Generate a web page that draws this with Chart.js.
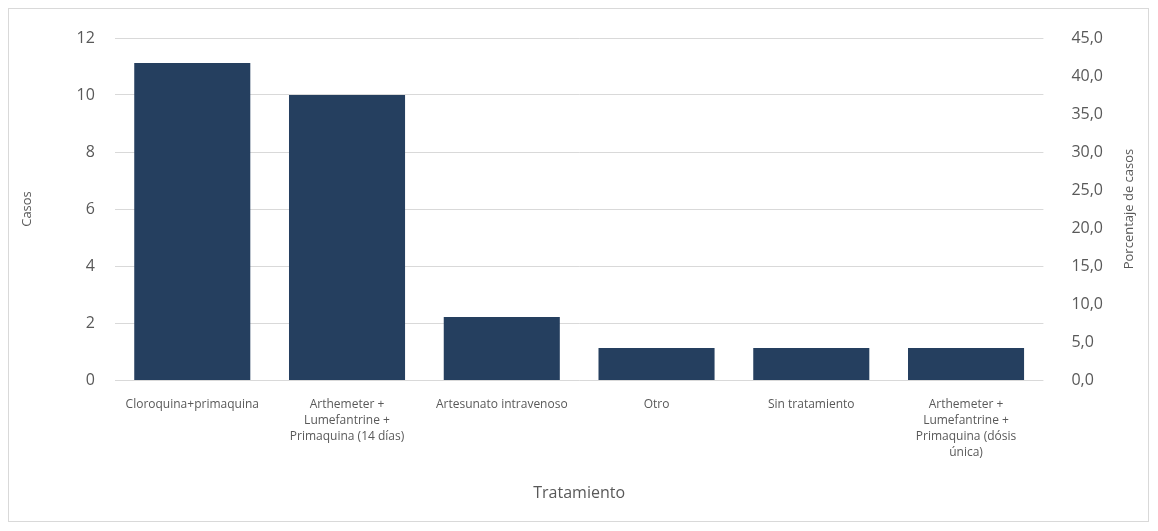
<!DOCTYPE html>
<html>
<head>
<meta charset="utf-8">
<script src="https://cdn.jsdelivr.net/npm/chart.js@4/dist/chart.umd.min.js"></script>
<style>
  html, body { margin: 0; padding: 0; background: #fff; }
  #wrap { position: absolute; left: 8px; top: 8px; width: 1141px; height: 514px; border: 1px solid #d9d9d9; box-sizing: border-box; }
  #chart { position: absolute; left: 0; top: 0; }
</style>
</head>
<body>
<div id="wrap"></div>
<canvas id="chart" width="1158" height="531"></canvas>
<script>
// Datos del grafico
var tratamientos = [
    "Cloroquina+primaquina",
    ["Arthemeter +", "Lumefantrine +", "Primaquina (14 días)"],
    "Artesunato intravenoso",
    "Otro",
    "Sin tratamiento",
    ["Arthemeter +", "Lumefantrine +", "Primaquina (dósis", "única)"]
];
var porcentajes = [41.7, 37.5, 8.3, 4.2, 4.2, 4.2];
var casosTicks = [0, 2, 4, 6, 8, 10, 12];
var porcentajeTicks = [0, 5, 10, 15, 20, 25, 30, 35, 40, 45];

var fontFamily = "'Open Sans', 'Noto Sans', sans-serif";
var textColor = "#595959";

Chart.defaults.font.family = fontFamily;
Chart.defaults.color = textColor;

// titulo del eje derecho, leido de abajo hacia arriba
var rightTitle = {
    id: "rightTitle",
    afterDraw: function (chart) {
        var ctx = chart.ctx;
        var area = chart.chartArea;
        ctx.save();
        ctx.translate(1129, (area.top + area.bottom) / 2);
        ctx.rotate(-Math.PI / 2);
        ctx.font = "13px " + fontFamily;
        ctx.fillStyle = textColor;
        ctx.textAlign = "center";
        ctx.textBaseline = "middle";
        ctx.fillText("Porcentaje de casos", 0, 0);
        ctx.restore();
    }
};

new Chart("chart", {
    type: "bar",
    data: {
        labels: tratamientos,
        datasets: [{
            label: "Porcentaje de casos",
            data: porcentajes,
            backgroundColor: "#253f5f",
            yAxisID: "y1",
            barPercentage: 0.75,
            categoryPercentage: 1
        }]
    },
    options: {
        responsive: false,
        animation: false,
        layout: { padding: { left: 15, right: 35, top: 38, bottom: 24 } },
        plugins: {
            legend: { display: false },
            tooltip: { enabled: false }
        },
        scales: {
            x: {
                grid: { display: false },
                border: { display: false },
                ticks: {
                    font: { size: 12, lineHeight: 1.35 },
                    color: textColor,
                    maxRotation: 0,
                    autoSkip: false,
                    padding: 8
                },
                title: {
                    display: true,
                    text: "Tratamiento",
                    font: { size: 16 },
                    color: textColor,
                    padding: { top: 15 }
                }
            },
            y: {
                position: "left",
                min: 0,
                max: 12,
                afterBuildTicks: function (axis) {
                    axis.ticks = casosTicks.map(function (v) { return { value: v }; });
                },
                grid: { color: "#d9d9d9", lineWidth: 1, drawTicks: false },
                border: { display: false },
                ticks: { font: { size: 16 }, color: textColor, padding: 20 },
                title: {
                    display: true,
                    text: "Casos",
                    font: { size: 13 },
                    color: textColor,
                    padding: { bottom: 22 }
                }
            },
            y1: {
                position: "right",
                min: 0,
                max: 45,
                afterBuildTicks: function (axis) {
                    axis.ticks = porcentajeTicks.map(function (v) { return { value: v }; });
                },
                grid: { display: false },
                border: { display: false },
                ticks: {
                    font: { size: 16 },
                    color: textColor,
                    padding: 20,
                    callback: function (v) { return v.toFixed(1).replace(".", ","); }
                }
            }
        }
    },
    plugins: [rightTitle]
});
</script>
</body>
</html>
